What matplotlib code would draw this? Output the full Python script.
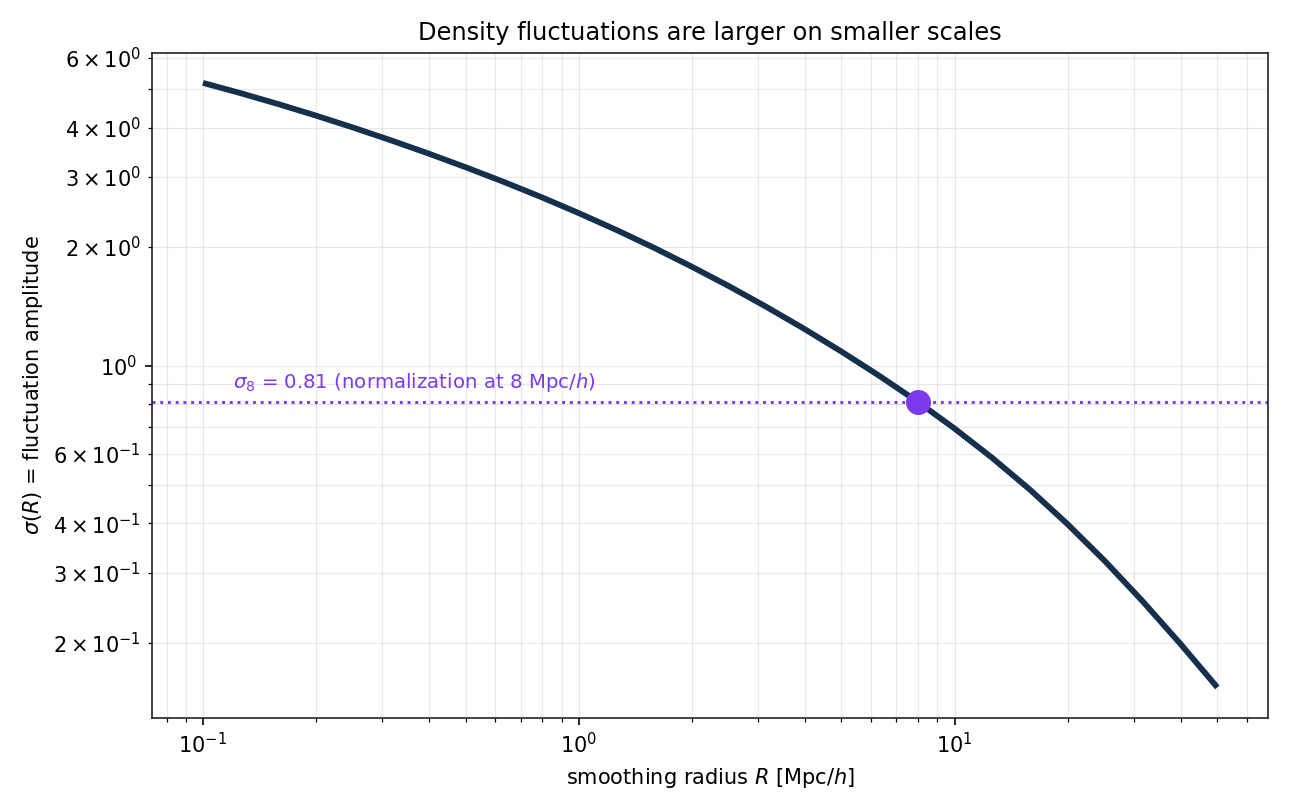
import matplotlib
matplotlib.use("Agg")
import matplotlib.pyplot as plt
from matplotlib.ticker import LogFormatterSciNotation

# Smoothing radius R [Mpc/h] and rms fluctuation amplitude sigma(R)
radius = [0.1, 0.1259, 0.1585, 0.1995, 0.2512, 0.3162, 0.3981, 0.5012, 0.6310, 0.7943,
          1.0, 1.259, 1.585, 1.995, 2.512, 3.162, 3.981, 5.012, 6.310, 7.943,
          10.0, 12.59, 15.85, 19.95, 25.12, 31.62, 39.81, 50.0]
sigma = [5.188, 4.887, 4.587, 4.291, 3.999, 3.715, 3.440, 3.173, 2.917, 2.670,
         2.432, 2.205, 1.988, 1.782, 1.589, 1.408, 1.240, 1.085, 0.9430, 0.8137,
         0.6942, 0.5855, 0.4870, 0.3986, 0.3210, 0.2544, 0.1988, 0.1540]

sigma8_R = 8.0
sigma8 = 0.81
annot_R = 0.12

LINE = "#14304d"
PURPLE = "#7c3aed"

fig = plt.figure(figsize=(8.6, 5.4), dpi=150)
ax = fig.add_axes([0.118, 0.114, 0.865, 0.821])

ax.plot(radius, sigma, color=LINE, lw=2.8, zorder=3, solid_capstyle="butt",
        solid_joinstyle="round")
ax.axhline(sigma8, color=PURPLE, ls=":", lw=1.4, zorder=2)
ax.plot([sigma8_R], [sigma8], "o", color=PURPLE, ms=11, zorder=4)
ax.text(annot_R, sigma8 * 1.05, r"$\sigma_8$ = 0.81 (normalization at 8 Mpc/$h$)",
        color=PURPLE, fontsize=9.5, va="bottom", ha="left")

ax.set_xscale("log")
ax.set_yscale("log")
ax.yaxis.set_minor_formatter(LogFormatterSciNotation(labelOnlyBase=False,
                                                     minor_thresholds=(2, 0.4)))
ax.grid(True, which="both", color="#b0b0b0", alpha=0.28, lw=0.6)
ax.set_axisbelow(True)

ax.set_title("Density fluctuations are larger on smaller scales", fontsize=11.6)
ax.set_xlabel(r"smoothing radius $R$ [Mpc/$h$]", fontsize=10)
ax.set_ylabel(r"$\sigma(R)$ = fluctuation amplitude", fontsize=10)
ax.tick_params(which="both", labelsize=10)
for s in ax.spines.values():
    s.set_color("#222222")

fig.savefig("out.png", dpi=150)
